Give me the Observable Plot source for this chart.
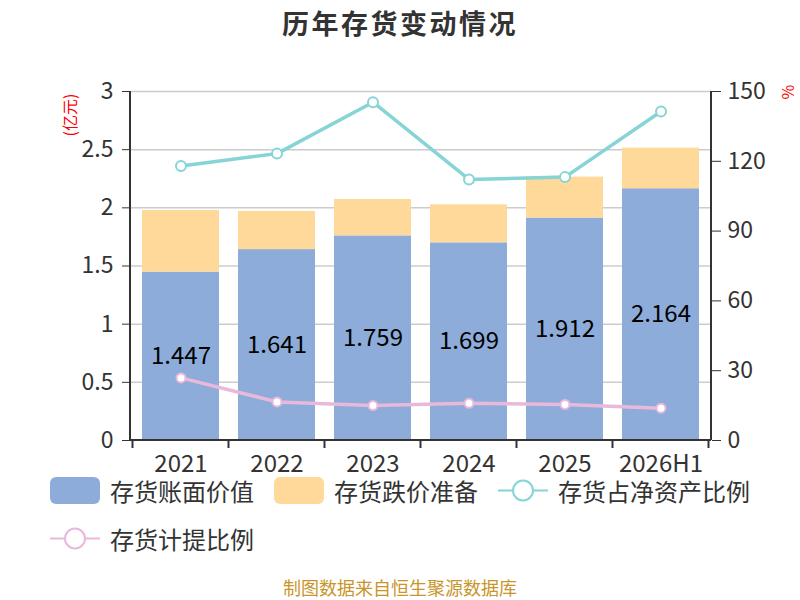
<!DOCTYPE html>
<html><head><meta charset="utf-8">
<script src="https://cdn.jsdelivr.net/npm/d3@7"></script>
<script src="https://cdn.jsdelivr.net/npm/@observablehq/plot@0.6"></script>
<style>
body{margin:0;background:#fff;font-family:"Noto Sans CJK SC","Noto Sans",sans-serif;}
#wrap{position:relative;width:800px;height:600px;overflow:hidden;background:#fff;}
#title{position:absolute;top:9px;left:0;width:800px;text-align:center;font-size:27px;line-height:27px;font-weight:bold;color:#333;letter-spacing:2.5px;}
#chart{position:absolute;top:0;left:0;}
#unitL{position:absolute;left:69px;top:115px;transform:translate(-50%,-50%) rotate(-90deg);color:#f00;font-size:16px;line-height:16px;white-space:nowrap;}
#unitR{position:absolute;left:787px;top:92px;transform:translate(-50%,-50%) rotate(-90deg);color:#f00;font-size:16px;line-height:16px;white-space:nowrap;}
#legend{position:absolute;left:50px;top:477px;width:710px;display:flex;flex-wrap:wrap;column-gap:20px;row-gap:21px;}
.item{display:flex;align-items:center;height:27px;}
.item svg{display:block;margin-right:10px;}
.item span{font-size:24px;line-height:27px;color:#333;}
#footer{position:absolute;top:577px;left:0;width:800px;text-align:center;font-size:18px;line-height:20px;color:#c8952b;}
</style>
</head><body>
<div id="wrap">
  <div id="title">历年存货变动情况</div>
  <div id="chart"></div>
  <div id="unitL">(亿元)</div>
  <div id="unitR">%</div>
  <div id="legend"></div>
  <div id="footer">制图数据来自恒生聚源数据库</div>
</div>
<script>
const years = ["2021","2022","2023","2024","2025","2026H1"];
const bookValue = [1.447,1.641,1.759,1.699,1.912,2.164];
const impairment = [0.530,0.328,0.313,0.327,0.352,0.349];
const inventoryToNetAssets = [118.0,123.3,145.4,112.2,113.2,141.4];
const provisionRatio = [26.9,16.6,15.0,16.0,15.5,13.9];
const leftTicks = [0,0.5,1,1.5,2,2.5,3];
const rightTicks = [0,30,60,90,120,150];
const seriesNames = ["存货账面价值","存货跌价准备","存货占净资产比例","存货计提比例"];
const colors = ["#8dacd9","#fed999","#86d4d6","#e9b9dc"];

const leftMax = 3, rightMax = 150;
const pct = p => p * leftMax / rightMax;

const rows = years.map((y,i)=>({year:y, book:bookValue[i], imp:impairment[i], ratio:inventoryToNetAssets[i], prov:provisionRatio[i]}));

function axisFrame(index, scales, values, dimensions){
  const {width, marginLeft, marginRight} = dimensions;
  const x = scales.x;
  const y = scales.y;
  const bw = x.bandwidth ? x.bandwidth() : scales.scales.x.bandwidth;
  const step = x.step ? x.step() : scales.scales.x.step;
  const gap = (step - bw)/2;
  const y0 = y(0), yTop = y(leftMax);
  const g = d3.create("svg:g").attr("stroke","#333").attr("stroke-width",2).attr("fill","none");
  g.append("line").attr("x1",marginLeft).attr("x2",marginLeft).attr("y1",yTop).attr("y2",y0);
  g.append("line").attr("x1",width-marginRight).attr("x2",width-marginRight).attr("y1",yTop).attr("y2",y0);
  g.append("line").attr("x1",marginLeft).attr("x2",width-marginRight).attr("y1",y0).attr("y2",y0);
  const bounds = years.map(c => x(c) - gap);
  bounds.push(x(years[years.length-1]) + bw + gap);
  for (const b of bounds) g.append("line").attr("x1",b).attr("x2",b).attr("y1",y0).attr("y2",y0+8);
  return g.node();
}

const chart = Plot.plot({
  width:800, height:480,
  marginTop:91, marginBottom:40, marginLeft:130, marginRight:89,
  style:{fontFamily:'"Noto Sans CJK SC","Noto Sans",sans-serif', fontSize:"23px", color:"#333", background:"transparent", overflow:"visible"},
  x:{type:"band", domain:years, paddingInner:0.2, paddingOuter:0.1, label:null},
  y:{domain:[0,leftMax], label:null},
  marks:[
    Plot.ruleY(leftTicks.slice(1), {stroke:"#cccccc", strokeWidth:1.5}),
    Plot.barY(rows, {x:"year", y1:0, y2:"book", fill:colors[0], inset:0}),
    Plot.barY(rows, {x:"year", y1:"book", y2:d=>d.book+d.imp, fill:colors[1], inset:0}),
    Plot.text(rows, {x:"year", y:d=>d.book/2, text:d=>d.book.toFixed(3), fontSize:24, fill:"#000"}),
    Plot.line(rows, {x:"year", y:d=>pct(d.ratio), stroke:colors[2], strokeWidth:3.5}),
    Plot.dot(rows, {x:"year", y:d=>pct(d.ratio), r:5, fill:"#fff", stroke:colors[2], strokeWidth:2}),
    Plot.line(rows, {x:"year", y:d=>pct(d.prov), stroke:colors[3], strokeWidth:3.5}),
    Plot.dot(rows, {x:"year", y:d=>pct(d.prov), r:4.5, fill:"#fff", stroke:colors[3], strokeWidth:2}),
    Plot.axisY({anchor:"left", ticks:leftTicks, tickSize:8, tickPadding:9, fontSize:23, label:null, tickFormat:d=>String(d)}),
    Plot.axisY({anchor:"right", ticks:rightTicks.map(pct), tickSize:9, tickPadding:7, fontSize:23, label:null, tickFormat:d=>String(Math.round(d*rightMax/leftMax))}),
    Plot.axisX({tickSize:0, tickPadding:14, fontSize:24, label:null}),
    axisFrame
  ]
});
document.getElementById("chart").appendChild(chart);

const legend = document.getElementById("legend");
seriesNames.forEach((name,i)=>{
  const item = document.createElement("div");
  item.className = "item";
  let sw;
  if (i < 2) {
    sw = `<svg width="50" height="27"><rect x="0" y="0" width="50" height="27" rx="6" fill="${colors[i]}"/></svg>`;
  } else {
    sw = `<svg width="50" height="27"><line x1="0" x2="50" y1="13.5" y2="13.5" stroke="${colors[i]}" stroke-width="2"/><circle cx="25" cy="13.5" r="10" fill="#fff" stroke="${colors[i]}" stroke-width="2"/></svg>`;
  }
  item.innerHTML = sw + `<span>${name}</span>`;
  legend.appendChild(item);
});
</script>
</body></html>
